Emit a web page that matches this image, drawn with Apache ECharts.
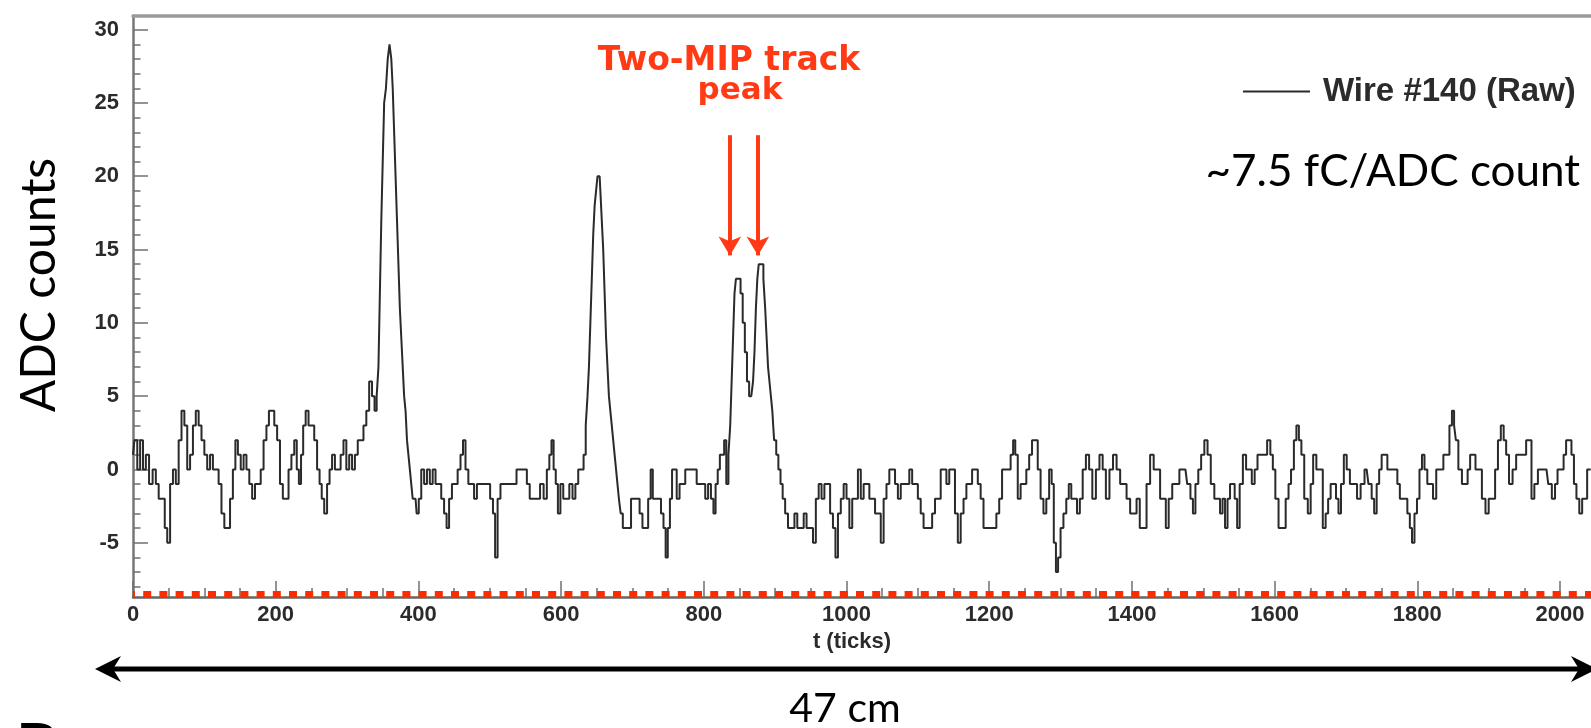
<!DOCTYPE html>
<html><head><meta charset="utf-8">
<script src="https://cdn.jsdelivr.net/npm/echarts@6/dist/echarts.min.js"></script>
<style>html,body{margin:0;padding:0;background:#fff}#c{width:1591px;height:728px}</style>
</head><body><div id="c"></div>
<script>
// ---- data: [tick, ADC counts] ----
const segStart = [[0,1],[4,2],[8,0],[12,2],[16,0],[20,1],[25,-1],[30,0],[34,-1],[38,-2],[43,-2],[46,-4],[50,-5],[54,-1],[58,0],[62,-1],[66,2],[70,4],[74,3],[78,0],[82,1],[86,3],[90,4],[94,3],[98,2],[102,1],[106,0],[110,1],[114,0],[118,0],[122,-1],[126,-3],[130,-4],[134,-4],[138,-2],[142,0],[145,2],[149,1],[153,0],[157,1],[161,0],[165,-1],[169,-2],[173,-1],[177,-1],[181,0],[185,2],[189,3],[192,4],[196,4],[200,3],[204,2],[208,-1],[212,-2],[216,-2],[220,0],[224,1],[228,2],[231,0],[234,-1],[237,1],[240,3],[244,4],[248,3],[252,3],[256,2],[260,0],[263,-1],[266,-2],[270,-3],[274,-1],[277,0],[281,1],[285,0],[289,0],[293,1],[297,2],[301,0],[305,1],[309,0],[313,1],[317,2],[321,2],[325,3],[329,4]];
const segPeak1 = [[333,6],[337,5],[340,4],[343,5],[345,7],[347,12],[349,17],[351,21],[353,25],[356,26],[358,28],[361,29],[363,28],[365,26],[367,23],[369,20],[371,17],[373,14],[375,11],[377,9],[379,7],[381,5],[383,4],[385,2],[387,1],[389,0],[391,-1],[393,-2],[396,-2],[399,-3]];
const segMid1 = [[402,-2],[406,0],[410,-1],[414,0],[418,-1],[422,0],[426,-1],[430,-1],[434,-2],[438,-3],[441,-4],[445,-2],[449,-1],[453,-1],[457,0],[461,1],[464,2],[468,0],[472,-1],[476,-1],[480,-2],[484,-1],[488,-1],[493,-1],[498,-1],[503,-2],[506,-3],[509,-6],[513,-2],[517,-1],[521,-1],[525,-1],[530,-1],[535,-1],[540,0],[545,0],[550,0],[554,-1],[558,-2],[563,-2],[568,-2],[573,-1],[578,-2],[582,0],[585,1],[588,2],[591,0],[594,-1],[597,-3],[601,-1],[605,-2],[609,-2],[614,-1],[618,-2],[622,-1],[626,0],[630,0]];
const segPeak2 = [[633,1],[636,3],[638,5],[640,7],[642,10],[644,13],[646,16],[648,18],[650,19],[652,20],[654,20],[656,19],[658,17],[660,15],[662,12],[664,9],[666,7],[668,5],[670,4],[672,3],[674,2],[676,1],[678,0],[680,-1],[682,-2],[685,-3],[688,-4]];
const segMid2 = [[692,-4],[696,-4],[700,-2],[704,-2],[708,-2],[712,-3],[716,-4],[720,-4],[724,-2],[727,0],[730,-2],[734,-2],[738,-2],[742,-3],[745,-4],[748,-6],[751,-4],[754,-2],[757,0],[760,0],[764,-2],[768,-1],[772,-1],[776,0],[780,0],[784,0],[788,0],[792,-1],[796,-1],[800,-1],[804,-2],[808,-1],[812,-2],[815,-3],[818,-1],[821,0],[824,1],[827,1],[830,2],[833,-1],[836,1]];
const segTwinPeak = [[838,3],[840,6],[842,9],[844,12],[846,13],[850,13],[853,12],[856,10],[859,8],[862,6],[865,5],[868,5],[870,6],[872,8],[874,11],[876,13],[878,14],[882,14],[885,13],[887,11],[889,9],[891,7],[893,6],[895,5],[897,4],[900,2],[903,1],[906,0],[909,-1],[912,-2],[916,-3]];
const segMid3 = [[920,-4],[925,-4],[929,-3],[933,-4],[938,-4],[942,-3],[946,-4],[951,-4],[955,-5],[959,-2],[963,-1],[967,-2],[971,-1],[975,-1],[979,-3],[983,-4],[986,-6],[990,-3],[994,-2],[998,-1],[1002,-2],[1006,-4],[1010,-2],[1014,-2],[1018,0],[1022,-2],[1026,-1],[1030,-1],[1034,-2],[1038,-2],[1042,-3],[1046,-3],[1050,-5],[1054,-2],[1058,-1],[1062,0],[1066,0],[1070,-1],[1074,-2],[1078,-1],[1082,-1],[1086,-1],[1090,0],[1094,-1],[1098,-1],[1102,-2],[1106,-3],[1110,-4],[1114,-4],[1118,-4],[1122,-3],[1126,-2],[1130,-2],[1134,0],[1138,0],[1142,-1],[1146,0],[1150,0],[1154,-3],[1158,-5],[1162,-3],[1166,-2],[1170,-1],[1174,-1],[1178,0],[1182,0],[1186,-1],[1190,-2],[1194,-4],[1198,-4],[1203,-4],[1208,-4],[1212,-3],[1216,-2],[1220,0],[1224,0],[1228,0],[1232,1],[1235,2],[1238,1],[1242,-2],[1246,-1],[1250,-1],[1254,0],[1258,1],[1262,2],[1266,2],[1270,0],[1274,-2],[1278,-3],[1282,-2],[1286,0],[1289,-1],[1292,-5],[1295,-7],[1298,-6]];
const segTail1 = [[1302,-4],[1306,-3],[1310,-2],[1313,-1],[1317,-2],[1321,-2],[1325,-3],[1329,-2],[1333,0],[1338,1],[1342,0],[1347,-2],[1352,0],[1357,1],[1361,0],[1366,-2],[1371,0],[1376,1],[1381,0],[1386,-1],[1390,-1],[1395,-2],[1400,-3],[1404,-3],[1409,-2],[1413,-4],[1418,-4],[1423,-1],[1428,1],[1433,0],[1437,0],[1442,-2],[1446,-2],[1449,-4],[1454,-2],[1459,-1],[1464,-1],[1469,0],[1475,0],[1480,-1],[1484,-2],[1487,-3],[1491,-1],[1495,0],[1499,1],[1504,2],[1508,1],[1513,-1],[1518,-2],[1522,-2],[1525,-3],[1529,-2],[1532,-4],[1536,-2],[1539,-1],[1542,-1],[1546,-2],[1549,-4],[1553,-1],[1558,1],[1562,0],[1566,0],[1570,-1],[1574,0],[1578,1],[1582,1],[1587,1],[1592,2],[1596,1],[1599,0],[1603,-2],[1608,-4],[1613,-4],[1618,-2],[1621,-1],[1625,0],[1629,2],[1632,3],[1636,2],[1639,1],[1644,-2],[1649,-3],[1652,-1],[1656,1],[1661,0],[1665,0]];
const segTail2 = [[1670,-4],[1673,-3],[1677,-2],[1680,-1],[1684,-1],[1688,-2],[1691,-3],[1695,-1],[1699,1],[1703,0],[1708,-1],[1713,-1],[1718,-2],[1723,-1],[1729,0],[1734,-1],[1738,-2],[1741,-3],[1745,-1],[1748,0],[1752,1],[1756,1],[1760,0],[1765,0],[1770,0],[1774,-1],[1777,-2],[1781,-2],[1784,-2],[1788,-3],[1791,-4],[1794,-5],[1798,-3],[1801,-2],[1805,0],[1808,1],[1812,0],[1816,-1],[1820,-1],[1824,-2],[1829,0],[1834,0],[1839,1],[1843,1],[1847,3],[1850,4],[1853,3],[1855,2],[1860,0],[1865,-1],[1869,-1],[1872,0],[1876,1],[1879,1],[1884,0],[1888,0],[1893,-2],[1898,-3],[1902,-2],[1907,-2],[1911,0],[1915,2],[1919,3],[1923,2],[1926,1],[1931,-1],[1936,0],[1941,1],[1945,1],[1950,1],[1955,2],[1958,2],[1962,-2],[1966,-1],[1972,0],[1977,0],[1981,0],[1986,-1],[1991,-2],[1995,-1],[1998,0],[2003,0],[2007,1],[2010,2],[2014,2],[2018,1],[2021,-1],[2025,-2],[2029,-3],[2033,-2],[2036,-2],[2040,0],[2043,0]];

const xMajorTicks = [0,200,400,600,800,1000,1200,1400,1600,1800,2000];
const xMinorTicks = [50,100,150,250,300,350,450,500,550,650,700,750,850,900,950,1050,1100,1150,1250,1300,1350,1450,1500,1550,1650,1700,1750,1850,1900,1950];
const yMajorTicks = [-5,0,5,10,15,20,25,30];
const yMinorTicks = [-8,-7,-6,-4,-3,-2,-1,1,2,3,4,6,7,8,9,11,12,13,14,16,17,18,19,21,22,23,24,26,27,28,29];
const arrowTicks = [836.5, 875.8];   // the two red "Two-MIP" arrows
const arrowFrom = 22.8, arrowTo = 14.6;
const thresholdLevel = -8.5;          // red dashed baseline

const X_MIN = 0, X_MAX = 2043.4, Y_MIN = -8.7, Y_MAX = 30.93;
const samples = [].concat(segStart, segPeak1, segMid1, segPeak2, segMid2, segTwinPeak, segMid3, segTail1, segTail2);

const AX = '#707070', TXT = '#2b2b2b', RED = '#ff3a14';
const narrow = '"Liberation Sans Narrow", "Liberation Sans", sans-serif';
const tickFont = {fontFamily:narrow, fontWeight:'bold', fontSize:22, color:TXT};
const human = 'Lato';
const plain = v => String(v);

const chart = echarts.init(document.getElementById('c'), null, {renderer:'canvas'});
chart.setOption({
  animation:false,
  backgroundColor:'#fff',
  grid:{left:133, top:16, right:0, height:581, outerBoundsMode:'none', containLabel:false},
  xAxis:[
    {type:'value', min:X_MIN, max:X_MAX, position:'bottom',
     axisLine:{show:true, onZero:false, lineStyle:{color:'#666', width:2.5}},
     axisTick:{show:true, inside:true, length:16, customValues:xMajorTicks, lineStyle:{color:AX, width:1.5}},
     axisLabel:{show:true, customValues:xMajorTicks, margin:7, formatter:plain, ...tickFont},
     splitLine:{show:false},
     name:'t (ticks)', nameLocation:'middle', nameGap:33,
     nameTextStyle:{fontFamily:narrow, fontWeight:'bold', fontSize:22, color:TXT, padding:[0,20,0,0]}},
    {type:'value', min:X_MIN, max:X_MAX, position:'bottom',
     axisLine:{show:false, onZero:false},
     axisTick:{show:true, inside:true, length:9, customValues:xMinorTicks, lineStyle:{color:AX, width:1.5}},
     axisLabel:{show:false}, splitLine:{show:false}},
    {type:'value', min:X_MIN, max:X_MAX, position:'top',
     axisLine:{show:true, onZero:false, lineStyle:{color:'#9a9a9a', width:3.5}},
     axisTick:{show:false}, axisLabel:{show:false}, splitLine:{show:false}}
  ],
  yAxis:[
    {type:'value', min:Y_MIN, max:Y_MAX, position:'left',
     axisLine:{show:true, onZero:false, lineStyle:{color:'#777', width:2.5}},
     axisTick:{show:true, inside:true, length:15, customValues:yMajorTicks, lineStyle:{color:AX, width:1.5}},
     axisLabel:{show:true, customValues:yMajorTicks, margin:14, formatter:plain, ...tickFont},
     splitLine:{show:false}},
    {type:'value', min:Y_MIN, max:Y_MAX, position:'left',
     axisLine:{show:false, onZero:false},
     axisTick:{show:true, inside:true, length:7.5, customValues:yMinorTicks, lineStyle:{color:AX, width:1.5}},
     axisLabel:{show:false}, splitLine:{show:false}}
  ],
  legend:{left:1243, top:75, padding:0, icon:'rect', itemWidth:67, itemHeight:2,
    data:['Wire #140 (Raw)'],
    textStyle:{fontFamily:'Liberation Sans', fontWeight:'bold', fontSize:33, color:TXT, padding:[0,0,0,8]}},
  series:[{
    name:'Wire #140 (Raw)', type:'line', xAxisIndex:0, yAxisIndex:0,
    data:samples, step:'middle', showSymbol:false, symbol:'none',
    color:'#2a2a2a', lineStyle:{color:'#2a2a2a', width:2},
    markLine:{silent:true, symbol:'none', animation:false, label:{show:false},
      data:[
        {yAxis:thresholdLevel, lineStyle:{color:'#ff2a00', width:7, type:[8,8.2], dashOffset:6}},
        [{coord:[arrowTicks[0], arrowFrom], symbol:'none', lineStyle:{color:RED, width:4, type:'solid'}},
         {coord:[arrowTicks[0], arrowTo], symbol:'arrow', symbolSize:[17,19]}],
        [{coord:[arrowTicks[1], arrowFrom], symbol:'none', lineStyle:{color:RED, width:4, type:'solid'}},
         {coord:[arrowTicks[1], arrowTo], symbol:'arrow', symbolSize:[17,19]}]
      ]}
  }],
  graphic:[
    {type:'text', x:40, y:285, rotation:Math.PI/2,
     style:{text:'ADC counts', fill:'#000', font:'48px '+human, align:'center', verticalAlign:'middle', textAlign:'center', textVerticalAlign:'middle'}},
    {type:'text', x:1580, y:172,
     style:{text:'~7.5 fC/ADC count', fill:'#000', font:'44px '+human, align:'right', verticalAlign:'middle', textAlign:'right', textVerticalAlign:'middle'}},
    {type:'text', x:729, y:61,
     style:{text:'Two-MIP track', fill:RED, font:'bold 33px "DejaVu Sans"', align:'center', verticalAlign:'middle', textAlign:'center', textVerticalAlign:'middle'}},
    {type:'text', x:740, y:91,
     style:{text:'peak', fill:RED, font:'bold 31px "DejaVu Sans"', align:'center', verticalAlign:'middle', textAlign:'center', textVerticalAlign:'middle'}},
    {type:'line', shape:{x1:108, y1:669, x2:1582, y2:669}, style:{stroke:'#000', lineWidth:5}},
    {type:'polygon', shape:{points:[[95,669],[121,656],[113,669],[121,682]]}, style:{fill:'#000'}},
    {type:'polygon', shape:{points:[[1597,669],[1571,656],[1579,669],[1571,682]]}, style:{fill:'#000'}},
    {type:'text', x:845, y:709,
     style:{text:'47 cm', fill:'#000', font:'41px '+human, align:'center', verticalAlign:'middle', textAlign:'center', textVerticalAlign:'middle'}},
    {type:'text', x:16, y:748,
     style:{text:'B', fill:'#000', font:'bold 64px '+human, align:'left', verticalAlign:'middle', textAlign:'left', textVerticalAlign:'middle'}}
  ]
});
</script></body></html>
